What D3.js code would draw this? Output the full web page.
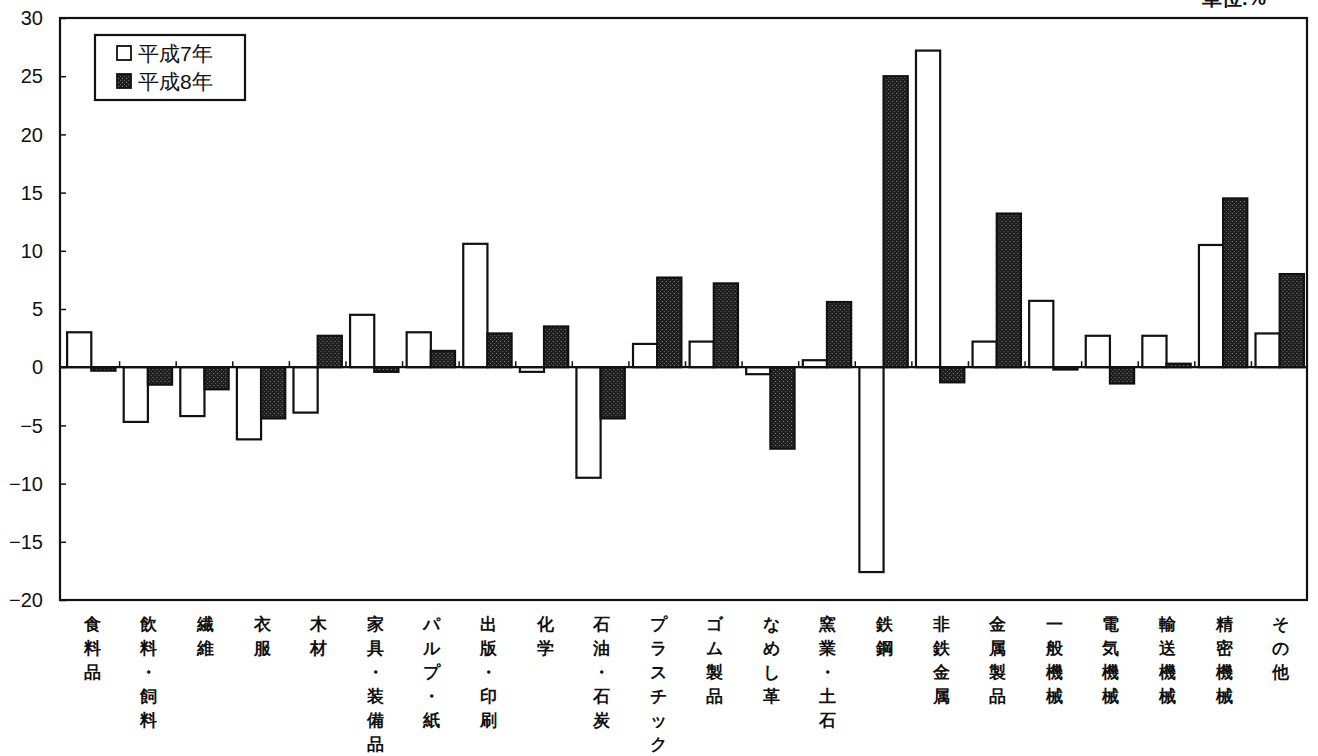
<!DOCTYPE html>
<html>
<head>
<meta charset="utf-8">
<script src="https://cdn.jsdelivr.net/npm/d3@7"></script>
<style>
  body { margin: 0; background: #fff; }
  .chart text { font-family: 'Liberation Sans', Arial, sans-serif; }
  .cjk { font-family: 'Noto Sans CJK JP', sans-serif; }
</style>
</head>
<body>
<div class="chart"></div>
<script>
// DATA ------------------------------------
const categories = [
  '食料品', '飲料・飼料', '繊維', '衣服', '木材', '家具・装備品', 'パルプ・紙',
  '出版・印刷', '化学', '石油・石炭', 'プラスチック', 'ゴム製品', 'なめし革',
  '窯業・土石', '鉄鋼', '非鉄金属', '金属製品', '一般機械', '電気機械',
  '輸送機械', '精密機械', 'その他'
];
const seriesNames = ['平成7年', '平成8年'];
const h7 = [3.0, -4.7, -4.2, -6.2, -3.9, 4.5, 3.0, 10.6, -0.4, -9.5, 2.0, 2.2, -0.6, 0.6, -17.6, 27.2, 2.2, 5.7, 2.7, 2.7, 10.5, 2.9];
const h8 = [-0.3, -1.5, -1.9, -4.4, 2.7, -0.4, 1.4, 2.9, 3.5, -4.4, 7.7, 7.2, -7.0, 5.6, 25.0, -1.3, 13.2, -0.2, -1.4, 0.3, 14.5, 8.0];
const yTicks = [30, 25, 20, 15, 10, 5, 0, -5, -10, -15, -20];
const unitLabel = '単位:%';

// CHART INIT ------------------------------
const W = 1318;
const H = 756;
const plot = { left: 60, right: 1307, top: 18, bottom: 600 };

const svg = d3
  .select('.chart')
  .append('svg')
  .attr('width', W)
  .attr('height', H);

// stipple pattern for the dark bars
const defs = svg.append('defs');
const pat = defs
  .append('pattern')
  .attr('id', 'stip')
  .attr('width', 4)
  .attr('height', 4)
  .attr('patternUnits', 'userSpaceOnUse');
pat.append('rect').attr('width', 4).attr('height', 4).attr('fill', '#1e1e1e');
pat.append('rect').attr('x', 1).attr('y', 1).attr('width', 1).attr('height', 1).attr('fill', '#8a8a8a');
pat.append('rect').attr('x', 3).attr('y', 3).attr('width', 1).attr('height', 1).attr('fill', '#666');

// scales
const x0 = d3.scaleBand().domain(categories).range([63, 1308]).padding(0);
const x1 = d3.scaleBand().domain([0, 1]).range([0, x0.bandwidth()]).paddingInner(0).paddingOuter(0.17);
const yScale = d3.scaleLinear().domain([-20, 30]).range([plot.bottom, plot.top]);

// y axis inner ticks + labels
const yAxis = d3.axisRight(yScale).tickValues(yTicks).tickSize(6).tickFormat('');
svg
  .append('g')
  .attr('transform', 'translate(' + plot.left + ',0)')
  .call(yAxis)
  .call((g) => g.select('.domain').remove())
  .selectAll('line')
  .attr('stroke', '#111')
  .attr('stroke-width', 1.5);

svg
  .append('g')
  .selectAll('text')
  .data(yTicks)
  .join('text')
  .attr('x', 43)
  .attr('y', (d) => yScale(d))
  .attr('dy', '0.36em')
  .attr('text-anchor', 'end')
  .attr('font-size', 20)
  .attr('fill', '#111')
  .text((d) => (d < 0 ? '\u2212' + Math.abs(d) : d));

// bars
const rows = categories.map((c, i) => ({ c, vals: [h7[i], h8[i]] }));

const groups = svg
  .append('g')
  .selectAll('g')
  .data(rows)
  .join('g')
  .attr('transform', (d) => 'translate(' + x0(d.c) + ',0)');

groups
  .selectAll('rect')
  .data((d) => d.vals.map((v, k) => ({ v, k })))
  .join('rect')
  .attr('x', (d) => x1(d.k))
  .attr('y', (d) => yScale(Math.max(0, d.v)))
  .attr('width', x1.bandwidth())
  .attr('height', (d) => Math.abs(yScale(d.v) - yScale(0)))
  .attr('fill', (d) => (d.k === 0 ? '#fff' : 'url(#stip)'))
  .attr('stroke', '#111')
  .attr('stroke-width', 2.2);

// zero line with small category ticks
svg
  .append('line')
  .attr('x1', plot.left)
  .attr('x2', plot.right)
  .attr('y1', yScale(0))
  .attr('y2', yScale(0))
  .attr('stroke', '#111')
  .attr('stroke-width', 2.2);

svg
  .append('g')
  .selectAll('line')
  .data(categories.slice(1))
  .join('line')
  .attr('x1', (d) => x0(d))
  .attr('x2', (d) => x0(d))
  .attr('y1', yScale(0))
  .attr('y2', yScale(0) - 6)
  .attr('stroke', '#111')
  .attr('stroke-width', 1.5);

// frame
svg
  .append('rect')
  .attr('x', plot.left)
  .attr('y', plot.top)
  .attr('width', plot.right - plot.left)
  .attr('height', plot.bottom - plot.top)
  .attr('fill', 'none')
  .attr('stroke', '#111')
  .attr('stroke-width', 2.2);

// vertical category labels, one character per line
const labelTop = 624;
const pitch = 24;

const labels = svg
  .append('g')
  .selectAll('text')
  .data(categories)
  .join('text')
  .attr('class', 'cjk')
  .attr('x', (d) => x0(d) + x0.bandwidth() / 2 + 1)
  .attr('y', labelTop)
  .attr('text-anchor', 'middle')
  .attr('font-size', 17)
  .attr('font-weight', 'bold')
  .attr('fill', '#111');

labels
  .selectAll('tspan')
  .data((d) => Array.from(d))
  .join('tspan')
  .attr('x', function () {
    return this.parentNode.getAttribute('x');
  })
  .attr('y', (d, i) => labelTop + i * pitch)
  .attr('dominant-baseline', 'central')
  .text((d) => d);

// legend
const legend = svg.append('g').attr('transform', 'translate(95,35)');
legend
  .append('rect')
  .attr('width', 150)
  .attr('height', 65)
  .attr('fill', '#fff')
  .attr('stroke', '#111')
  .attr('stroke-width', 2.2);

seriesNames.forEach((name, i) => {
  const row = legend.append('g').attr('transform', 'translate(22,' + (18 + i * 28) + ')');
  row
    .append('rect')
    .attr('x', 0)
    .attr('y', -7)
    .attr('width', 14)
    .attr('height', 14)
    .attr('fill', i === 0 ? '#fff' : 'url(#stip)')
    .attr('stroke', '#111')
    .attr('stroke-width', 1.8);
  row
    .append('text')
    .attr('class', 'cjk')
    .attr('x', 21)
    .attr('y', 0)
    .attr('dominant-baseline', 'central')
    .attr('font-size', 21)
    .attr('fill', '#111')
    .text(name);
});

// unit note, cut at the top edge like the scan
svg
  .append('text')
  .attr('class', 'cjk')
  .attr('x', 1266)
  .attr('y', 5)
  .attr('text-anchor', 'end')
  .attr('font-size', 20)
  .attr('font-weight', 'bold')
  .attr('fill', '#111')
  .text(unitLabel);
</script>
</body>
</html>
